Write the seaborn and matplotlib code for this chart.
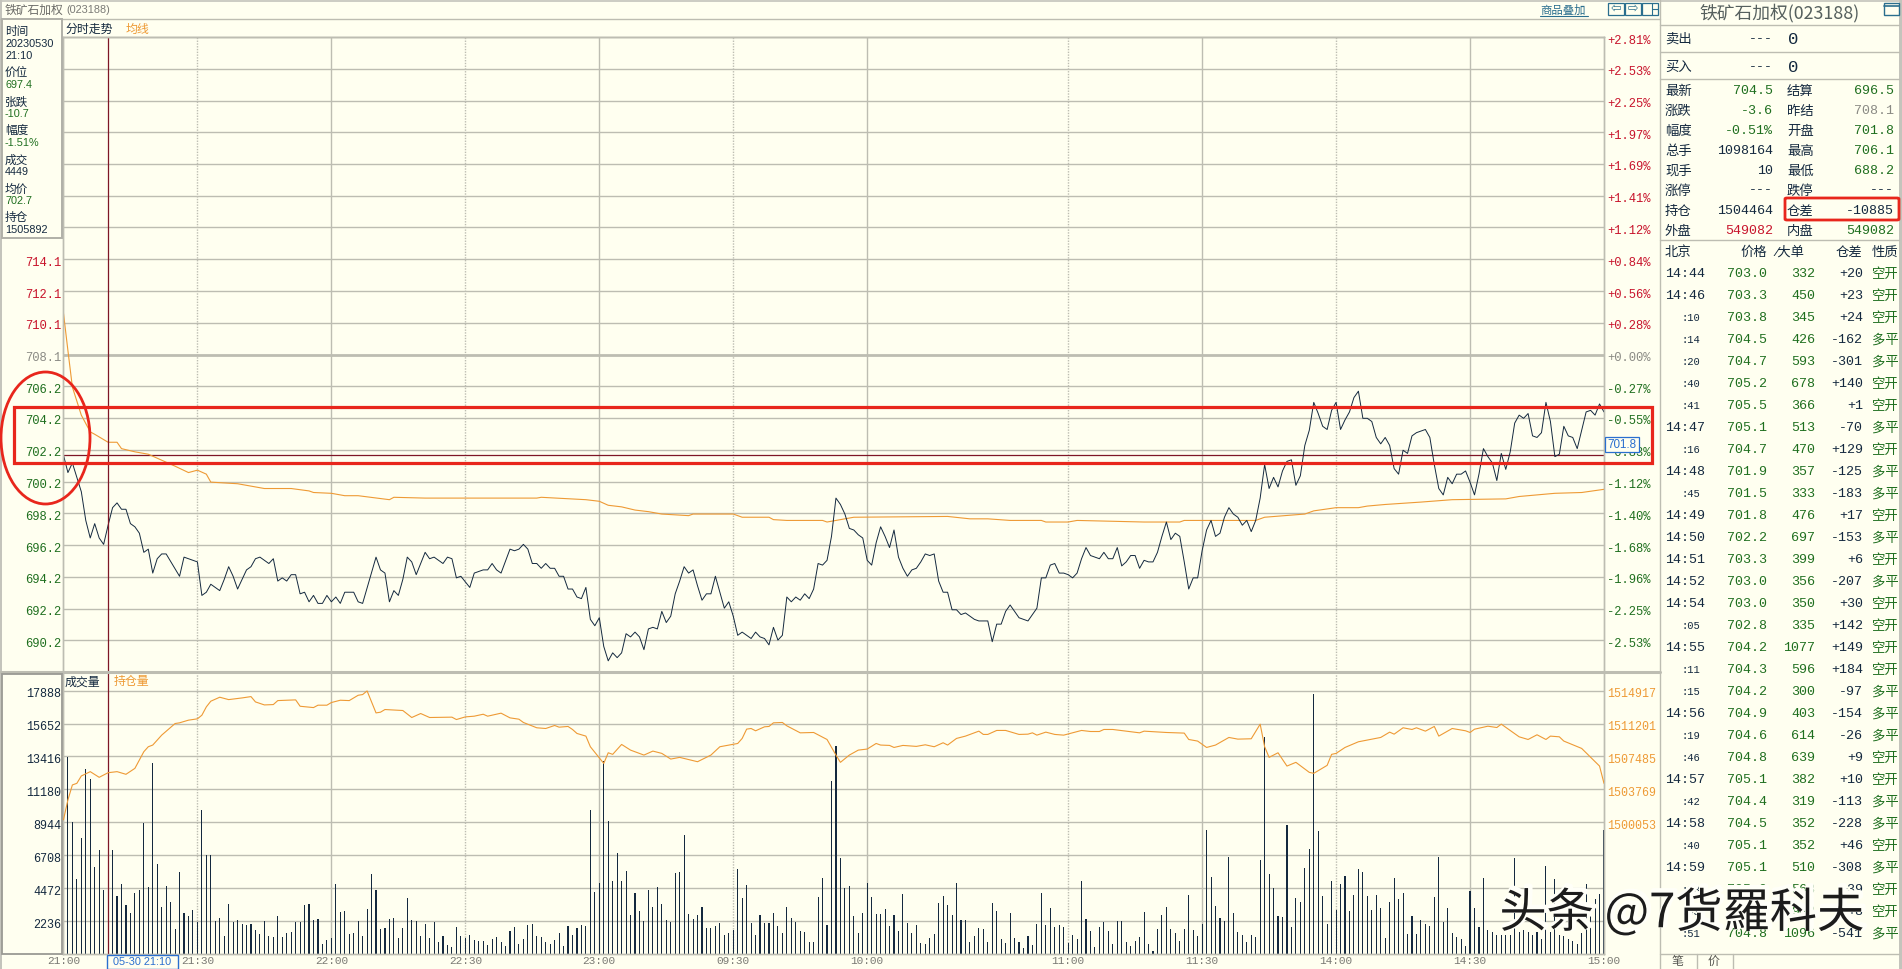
import numpy as np
import matplotlib
matplotlib.use("Agg")
import matplotlib.pyplot as plt
from matplotlib.lines import Line2D
from matplotlib.patches import Rectangle, Ellipse, FancyBboxPatch
from matplotlib.transforms import ScaledTranslation
import matplotlib.patheffects as pe
import seaborn as sns

# ---------- price line (minute index, price) ----------
price_minute = [0,1,2,3,4,5,6,7,8,9,10,11,12,13,14,15,16,17,18,19,20,21,22,23,26,27,29,30,31,32,33,35,36,37,38,39,41,42,43,44,46,47,48,49,50,51,52,53,54,55,56,57,58,59,60,61,62,63,65,66,67,70,71,72,73,74,75,76,77,78,79,81,82,83,85,86,87,88,89,91,92,93,94,95,96,97,98,100,101,102,103,104,105,106,107,108,109,110,111,112,113,114,115,116,117,118,119,120,121,122,123,124,
125,126,127,128,129,130,131,132,133,134,135,136,137,138,139,140,141,142,143,144,145,146,147,148,149,150,151,152,153,154,155,156,157,158,159,160,161,162,163,164,165,166,167,168,169,170,171,172,173,174,175,176,177,178,179,180,181,182,183,184,185,186,187,188,189,190,191,192,193,194,195,196,197,198,199,200,201,202,203,204,205,207,208,209,210,211,212,213,214,215,216,217,218,219,220,221,222,223,224,225,226,227,228,229,230,231,232,233,234,235,236,237,238,239,240,241,
242,243,244,245,246,247,248,249,250,251,252,253,254,255,256,257,258,259,260,261,262,263,264,265,266,267,268,269,270,271,272,273,274,275,276,277,278,279,280,281,282,283,284,285,286,287,288,289,290,291,292,293,294,295,296,297,298,299,300,301,302,303,304,305,306,307,308,309,310,311,312,313,314,315,316,317,318,319,320,321,322,323,324,325,326,327,328,329,330,331,332,333,334,335,336,337,338,339,340,341,342,343,344,345]
price_value = [701.8,700.7,701.3,700.4,699.5,697.7,696.6,697.5,696.6,696.2,697.4,698.5,698.8,698.4,698.4,697.5,697.3,696.9,695.7,695.9,694.4,695.3,695.6,695.6,694.2,695.4,695.2,695.1,693.0,693.2,693.7,693.3,694.0,694.8,694.2,693.4,694.6,694.8,695.3,695.4,695.0,695.3,693.9,694.1,693.9,694.3,694.3,693.1,693.2,692.6,693.0,692.5,692.5,693.0,692.6,692.9,692.5,693.2,693.2,692.6,692.5,695.4,694.6,694.4,692.6,693.3,693.0,694.0,695.4,695.1,694.3,695.7,695.3,695.4,695.0,695.4,695.3,694.1,694.2,693.5,694.4,694.5,694.6,694.6,695.0,694.6,694.4,695.9,695.8,695.9,696.2,695.9,695.0,695.0,694.7,695.0,694.7,694.7,694.2,694.2,693.4,693.4,692.9,692.8,693.5,691.5,691.1,691.6,689.8,688.9,689.4,689.1,
689.4,690.6,690.4,690.7,690.4,689.6,690.9,691.0,690.9,692.0,691.3,691.7,693.1,693.9,694.8,694.4,694.6,693.6,692.7,693.1,693.1,694.2,693.2,692.2,692.6,691.7,690.5,690.7,690.5,690.3,690.7,690.4,690.3,689.9,691.0,690.2,690.5,692.9,692.6,692.9,692.7,693.1,692.8,693.4,695.0,694.9,695.2,696.7,699.1,698.7,698.1,697.2,697.1,696.8,696.6,695.2,694.9,696.3,697.3,696.7,696.0,697.1,695.4,694.7,694.2,694.6,694.7,695.1,695.6,695.5,695.6,693.9,693.2,693.2,692.1,692.1,691.8,691.9,691.7,691.5,691.4,691.4,690.1,691.2,691.2,692.0,692.4,692.0,691.6,691.5,691.4,691.8,692.2,694.1,694.1,694.9,695.0,694.4,694.4,694.3,694.1,694.4,695.3,696.0,695.5,695.4,695.3,695.7,695.3,695.3,696.0,694.85,695.1,695.5,695.5,694.7,
695.2,695.1,695.1,695.7,696.7,697.6,696.5,696.9,696.7,695.1,693.4,694.1,694.1,695.8,697.1,697.7,696.7,696.9,697.9,698.5,698.1,697.9,697.4,697.7,697.0,697.7,699.1,701.2,699.7,700.4,699.8,700.8,701.4,701.5,699.9,700.5,702.4,703.35,705.1,704.4,703.6,703.4,704.6,705.1,703.4,704.0,704.5,705.4,705.8,704.1,704.1,703.9,702.9,702.5,702.9,702.4,700.95,700.6,702.1,701.9,703.0,703.2,703.3,703.4,702.9,701.2,699.7,699.3,700.4,700.0,700.6,700.6,700.8,700.1,699.3,700.6,702.2,701.7,701.3,700.2,701.9,700.9,702.0,703.8,704.3,704.1,704.4,703.0,702.9,703.2,705.1,703.9,701.7,701.85,703.6,703.0,702.9,702.2,703.35,704.5,704.6,704.3,705.0,704.5]

# ---------- average price line ----------
avg_minute = [0,1,2,4,6,7,10,12,13,16,19,25,28,30,32,33,39,45,51,55,56,60,63,66,73,74,81,106,107,117,120,122,125,128,131,134,140,141,150,152,158,159,162,170,171,173,177,198,203,207,212,219,220,225,227,242,250,251,267,269,278,280,285,290,292,296,304,311,323,326,334,340,345]
avg_value = [710.7,708.35,706.06,704.3,703.25,703.1,702.6,702.6,702.2,702.0,701.85,701.1,700.7,700.85,700.6,700.1,700.0,699.7,699.7,699.55,699.45,699.4,699.25,699.25,699.0,699.15,699.1,699.1,699.15,699.0,698.9,698.65,698.55,698.35,698.25,698.1,698.0,698.1,698.1,697.9,697.9,697.75,697.7,697.7,697.6,697.7,697.9,697.95,697.8,697.8,697.7,697.7,697.6,697.6,697.7,697.6,697.6,697.7,697.7,697.9,698.1,698.3,698.5,698.5,698.6,698.7,698.85,699.0,699.05,699.2,699.4,699.45,699.65]

# ---------- open interest line ----------
oi_minute = [0,1,2,3,4,6,8,10,12,14,16,18,19,20,22,25,26,28,30,31,32,33,35,37,40,42,43,45,47,48,52,53,56,57,59,60,62,64,66,67,68,70,71,72,76,78,80,82,87,88,90,92,94,95,98,100,102,103,106,108,110,111,113,114,115,117,118,121,122,123,125,127,130,132,134,136,138,142,145,147,151,152,153,154,155,157,158,159,161,162,165,168,171,173,174,176,178,180,182,183,185,186,188,191,193,195,197,198,200,202,205,206,207,209,211,214,216,217,218,220,222,224,228,230,232,233,235,241,242,247,251,252,254,256,258,261,263,266,268,269,270,272,274,276,279,280,283,284,285,287,290,295,297,298,300,302,303,305,307,308,311,314,315,316,319,321,322,326,328,330,332,333,335,336,340,344,345]
oi_value = [1500330,1502580,1504270,1504450,1505280,1505770,1505130,1505650,1505770,1505470,1506140,1508020,1508580,1508770,1509890,1511200,1511280,1511580,1511730,1512140,1513080,1513720,1514170,1513900,1514090,1514240,1513640,1513300,1513340,1513790,1513870,1513150,1513000,1513270,1513270,1513570,1513830,1513790,1514390,1514470,1514880,1512400,1512480,1512780,1512670,1511880,1512330,1511880,1511920,1511650,1511950,1512030,1512250,1512030,1512370,1511840,1511690,1511320,1510720,1510640,1510980,1510790,1510870,1510530,1510080,1509780,1508580,1506700,1507900,1507720,1508840,1508200,1507640,1508090,1507830,1507190,1507380,1506890,1507640,1508580,1508950,1509520,1510570,1510640,1510380,1510830,1510870,1511280,1511320,1510940,1510150,1510190,1509400,1507640,1506820,1507640,1508200,1508320,1508950,1508770,1508730,1508500,1508730,1508620,1508800,1508580,1509030,1508770,1509520,1509780,1510340,1509970,1509970,1510420,1510420,1509970,1510000,1510150,1509890,1510230,1509970,1509890,1510420,1510300,1510300,1510530,1510530,1510150,1510340,1510190,1510120,1509400,1509220,1508500,1508770,1509630,1509440,1509480,1511130,1508580,1507380,1507900,1506400,1506820,1505690,1505580,1506480,1507720,1507830,1508500,1509140,1509630,1510230,1510000,1510720,1510530,1510720,1510340,1510870,1509780,1510640,1510380,1510190,1510560,1510900,1510750,1511130,1509700,1509400,1509930,1509400,1509780,1509700,1509220,1508390,1506400,1504450]

# ---------- volume, per minute ----------
vol_night = [16930,13360,8990,5060,7910,12570,11910,5880,7070,4320,
4380,7070,3910,4720,3300,2760,4110,4320,8930,4520,
13000,6080,3160,4590,3500,1670,5600,2760,2550,2960,
2170,9810,6690,6690,2210,2420,1200,3370,2170,2280,
2060,1940,2010,1650,1380,2210,1200,1130,2550,1130,
1400,1470,2150,2150,3300,3370,2280,2350,700,970,
1100,4720,2830,2890,1330,1400,2210,1200,3030,5400,
4320,1670,1740,2350,2420,1060,1740,3770,2280,2210,
1200,2010,1060,2150,790,1200,590,450,1810,1200,
1060,1270,930,860,860,590,990,1130,790,520,
1540,1810,660,990,1940,2010,1200,1130,790,660,
930,1400,520,1880,1270,1740,1940,1880,9810,4180,
4790,13130,9060,4930,6830,4930,5670,2620,4110]
vol_morning = [2890,2210,4320,3160,4520,3370,2280,2150,5470,5600,
8050,2690,2350,2620,3160,1740,1740,1880,2080,1270,
1400,1600,5740,3770,4660,2080,1270,2620,2080,2080,
2760,1880,1400,3160,2420,2150,1540,1470,790,790,
3840,5130,1940,11770,14150,6490,4450,4590,2550,1400,
2760,4790,3840,2690,2690,3030,1880,2620,1540,4050,
2080,1400,1940,720,660,1060,1330,3440,3910,3300,
2620,4790,2280,2280,790,1200,1740,1670,790,3440,
2890,990,720,2760,1060,790,380,1200,590,2010,
4110,1940,3100,1810,1940,1810,720,1270,990,4930,
2350,1540,450,1810,2150,1540,660,2210]
vol_afternoon = [2210,790,520,860,1130,2830,660,180,1670,2620,
3160,1670,1400,860,1670,3980,1600,1200,2010,8450,
5200,3230,2420,2210,6620,2760,1470,1270,790,1270,
1130,6350,14760,5400,4450,2550,2490,8790,1810,3770,
3500,5810,7160,17670,8380,3910,2010,4930,2960,4720,
5330,2890,3980,5740,5600,3910,2960,3980,3100,1060,
3500,5130,3710,4110,1330,2550,1330,2280,2010,1880,
3840,6620,2150,3100,1400,1130,990,520,4270,3100,
1810,5130,1600,1470,1270,1270,1270,1270,6490,1500,
1600,1500,1300,1500,1000,6010,1500,5060,1300,1200,
1000,900,700,1400,4720,3370,3710,4050,8450]

# ---------- axis labels ----------
time_ticks = [0,30,60,90,120,150,180,225,255,285,315,345]
time_labels = ["21:00","21:30","22:00","22:30","23:00","09:30","10:00","11:00","11:30","14:00","14:30","15:00"]
left_labels = ["","","","","","","","714.1","712.1","710.1","708.1","706.2","704.2","702.2","700.2","698.2","696.2","694.2","692.2","690.2"]
right_labels = ["+2.81%","+2.53%","+2.25%","+1.97%","+1.69%","+1.41%","+1.12%","+0.84%","+0.56%","+0.28%","+0.00%","-0.27%","-0.55%","-0.83%","-1.12%","-1.40%","-1.68%","-1.96%","-2.25%","-2.53%"]
vol_ticks = [2236,4472,6708,8944,11180,13416,15652,17888]
oi_ticks = [1500053,1503769,1507485,1511201,1514917]

# ---------- side panel text ----------
tip_rows = [("时间",None),("20230530","n"),("21:10","n"),("价位",None),("697.4","g"),("张跌",None),("-10.7","g"),("幅度",None),("-1.51%","g"),("成交",None),("4449","n"),("均价",None),("702.7","g"),("持仓",None),("1505892","n")]
quote_left = [("最新","704.5","g"),("涨跌","-3.6","g"),("幅度","-0.51%","g"),("总手","1098164","n"),("现手","10","n"),("涨停","---","n"),("持仓","1504464","n"),("外盘","549082","r")]
quote_right = [("结算","696.5","g"),("昨结","708.1","a"),("开盘","701.8","g"),("最高","706.1","g"),("最低","688.2","g"),("跌停","---","n"),("仓差","-10885","n"),("内盘","549082","g")]
trades = [("14:44","703.0","332","+20","空开"),("14:46","703.3","450","+23","空开"),(":10","703.8","345","+24","空开"),(":14","704.5","426","-162","多平"),(":20","704.7","593","-301","多平"),(":40","705.2","678","+140","空开"),(":41","705.5","366","+1","空开"),("14:47","705.1","513","-70","多平"),(":16","704.7","470","+129","空开"),("14:48","701.9","357","-125","多平"),(":45","701.5","333","-183","多平"),("14:49","701.8","476","+17","空开"),("14:50","702.2","697","-153","多平"),("14:51","703.3","399","+6","空开"),("14:52","703.0","356","-207","多平"),("14:54","703.0","350","+30","空开"),(":05","702.8","335","+142","空开"),("14:55","704.2","1077","+149","空开"),(":11","704.3","596","+184","空开"),(":15","704.2","300","-97","多平"),("14:56","704.9","403","-154","多平"),(":19","704.6","614","-26","多平"),(":46","704.8","639","+9","空开"),("14:57","705.1","382","+10","空开"),(":42","704.4","319","-113","多平"),("14:58","704.5","352","-228","多平"),(":40","705.1","352","+46","空开"),("14:59","705.1","510","-308","多平"),(":18","705.0","568","+39","空开"),(":43","704.9","943","+8","空开"),(":51","704.8","1096","-541","多平")]

assert len(vol_night) == 129, len(vol_night)
assert len(vol_morning) == 108, len(vol_morning)
assert len(vol_afternoon) == 109, len(vol_afternoon)

# ---------- style ----------
BG = "#FFFFF0"; GRID = "#BDBDB2"; NAVY = "#14293F"; ORANGE = "#EE9A35"
RED = "#C8142C"; GREEN = "#1F6F1F"; GRAY = "#8A8A84"; BLUE = "#2A6FCF"; MARK = "#E8261C"; CROSS = "#7E1626"
sns.set_theme(style="white")
SANS = ["Noto Sans CJK SC", "Liberation Sans"]
MONO = ["Liberation Mono", "Noto Sans CJK SC"]
plt.rcParams["font.family"] = SANS
plt.rcParams["axes.unicode_minus"] = False
COL = {"n": NAVY, "g": GREEN, "r": RED, "a": GRAY}

W, H = 1902, 969
fig = plt.figure(figsize=(W/100, H/100), dpi=100, facecolor=BG)

def box(l, t, r, b):
    return [l/W, 1-b/H, (r-l)/W, (b-t)/H]
def T(x, y, s, **k):
    k.setdefault("va", "center")
    return fig.text(x/W, 1-y/H, s, **k)
def HL(x0, x1, y, c=GRID, lw=0.8, z=1):
    fig.add_artist(Line2D([x0/W, x1/W], [1-y/H, 1-y/H], color=c, lw=lw, zorder=z))
def VL(x, y0, y1, c=GRID, lw=0.8, z=1):
    fig.add_artist(Line2D([x/W, x/W], [1-y0/H, 1-y1/H], color=c, lw=lw, zorder=z))
def RC(l, t, r, b, **k):
    p = Rectangle((l/W, 1-b/H), (r-l)/W, (b-t)/H, transform=fig.transFigure, **k)
    fig.add_artist(p)
    return p

offset = ScaledTranslation(0, -2/100, fig.dpi_scale_trans)
X_LIM = (-0.1, 345)

# ---------- price panel ----------
ax = fig.add_axes(box(63, 37, 1604, 672), facecolor=BG)
levels = [708.1 + 1.99*k for k in range(10, -10, -1)]
ax.set_xlim(*X_LIM); ax.set_ylim(688.2, 728.0)
ax.set_yticks(levels); ax.set_yticklabels(left_labels, fontfamily=MONO, fontsize=8.7)
ax.set_xticks([])
ax.tick_params(axis="y", length=0, pad=1.5)
for lab, txt in zip(ax.get_yticklabels(), left_labels):
    lab.set_color(GRAY if txt == "708.1" else (RED if txt > "708.1" else GREEN))
    lab.set_transform(lab.get_transform() + offset)
for lv in levels[1:]:
    ax.axhline(lv, color=GRID, lw=2.0 if abs(lv-708.1) < .01 else 1.0, zorder=1)
for i, t in enumerate(time_ticks[1:-1], 1):
    ax.axvline(t, color=GRID, lw=1.0, ls=(0, (1, 1)) if i % 2 else "-", zorder=1)
sns.lineplot(x=avg_minute, y=avg_value, ax=ax, color=ORANGE, lw=0.8, estimator=None, sort=False, zorder=3)
sns.lineplot(x=price_minute, y=price_value, ax=ax, color=NAVY, lw=0.7, estimator=None, sort=False, zorder=4)
ax.axhline(701.8, color=CROSS, lw=0.9, zorder=2)
ax.axvline(time_ticks[0] + 10, color=CROSS, lw=0.9, zorder=5)
ax.set_xlim(*X_LIM); ax.set_ylim(688.2, 728.0); ax.set_xlabel(""); ax.set_ylabel("")
for s in ax.spines.values():
    s.set_color(GRID); s.set_linewidth(1.0)
axr = ax.twinx(); axr.set_ylim(688.2, 728.0)
axr.set_yticks(levels); axr.set_yticklabels(right_labels, fontfamily=MONO, fontsize=8.7)
axr.tick_params(axis="y", length=0, pad=2)
for lab, txt in zip(axr.get_yticklabels(), right_labels):
    lab.set_color(GRAY if txt == "+0.00%" else (RED if txt[0] == "+" else GREEN))
    lab.set_transform(lab.get_transform() + offset)
axr.grid(False)
for s in axr.spines.values():
    s.set_color(GRID); s.set_linewidth(1.0)

# ---------- volume panel ----------
axv = fig.add_axes(box(63, 672, 1604, 954), facecolor=BG)
vol_all = vol_night + vol_morning + vol_afternoon
minutes = np.arange(len(vol_all))
for v in vol_ticks:
    axv.axhline(v, color=GRID, lw=1.0, zorder=0)
for i, t in enumerate(time_ticks[1:-1], 1):
    axv.axvline(t, color=GRID, lw=1.0, ls=(0, (1, 1)) if i % 2 else "-", zorder=0)
sns.barplot(x=minutes, y=vol_all, ax=axv, native_scale=True, color=NAVY, saturation=1,
            width=0.245, errorbar=None, linewidth=0, zorder=2)
axv.axvline(10, color=CROSS, lw=0.9, zorder=5)
VOL_TOP = 19151
axv.set_xlim(*X_LIM); axv.set_ylim(0, VOL_TOP); axv.set_xlabel(""); axv.set_ylabel("")
axv.set_yticks(vol_ticks); axv.set_yticklabels([str(v) for v in vol_ticks], fontfamily=MONO, fontsize=8.5, color=NAVY)
axv.set_xticks(time_ticks); axv.set_xticklabels(time_labels, fontfamily=MONO, fontsize=8.0, color="#7A7A74")
axv.tick_params(axis="both", length=0, pad=1.5)
for lab in axv.get_yticklabels():
    lab.set_transform(lab.get_transform() + offset)
for s in axv.spines.values():
    s.set_color(GRID); s.set_linewidth(1.0)
axo = axv.twinx()
slope = 3716/2236
oi_lim = (1514917 - 17888*slope, 1514917 + (VOL_TOP-17888)*slope)
sns.lineplot(x=oi_minute, y=oi_value, ax=axo, color=ORANGE, lw=0.8, estimator=None, sort=False, zorder=3)
axo.set_xlim(*X_LIM); axo.set_xlabel(""); axo.set_ylabel("")
axo.set_ylim(*oi_lim)
axo.set_yticks(oi_ticks)
axo.set_yticklabels([str(v) for v in oi_ticks], fontfamily=MONO, fontsize=8.4, color=ORANGE)
axo.tick_params(axis="y", length=0, pad=2)
for lab in axo.get_yticklabels():
    lab.set_transform(lab.get_transform() + offset)
axo.grid(False)
for s in axo.spines.values():
    s.set_color(GRID); s.set_linewidth(1.0)

# ---------- chrome ----------
RC(0, 0, 2, H, fc="#C4C4BC", ec="none", zorder=6)
RC(1899, 0, W, H, fc="#C4C4BC", ec="none", zorder=6)
HL(0, W, 0.5, c="#C4C4BC", lw=1.2, z=6)
HL(0, 1660, 19, lw=1.0, z=6)
HL(63, 1604, 37, lw=1.0, z=6)
HL(0, 1660, 672, lw=2.2, z=6)
VL(1660, 0, 969, lw=1.0, z=6)
T(5, 10, "铁矿石加权", fontsize=8.5, color="#6A6A66", zorder=7)
T(66, 10, "(023188)", fontsize=7.8, color="#7A7A76", fontfamily=["Liberation Sans"], zorder=7)
T(65, 29, "分时走势", fontsize=8.6, color=NAVY, zorder=7)
T(126, 29, "均线", fontsize=8.6, color=ORANGE, zorder=7)
T(65, 682, "成交量", fontsize=8.6, color=NAVY, zorder=7)
T(114, 682, "持仓量", fontsize=8.6, color=ORANGE, zorder=7)
T(1540, 10, "商品叠加", fontsize=8.2, color="#2A6E8E", zorder=7)
HL(1540, 1588, 16, c="#2A6E8E", lw=0.8, z=7)
for l, g in zip([1608, 1625, 1642], ["⇦", "⇨", ""]):
    RC(l, 3, l+16, 15, fc=BG, ec="#2A6E8E", lw=0.9, zorder=7)
    if g:
        T(l+8, 8.5, g, ha="center", fontsize=9, color="#2A6E8E", fontfamily=["DejaVu Sans"], zorder=8)
VL(1652, 3, 15, c="#2A6E8E", lw=0.8, z=8)
HL(1652, 1658, 9, c="#2A6E8E", lw=0.8, z=8)
RC(1884, 3, 1899, 15, fc=BG, ec="#2A6E8E", lw=1.0, zorder=7)
HL(1884, 1899, 5.5, c="#2A6E8E", lw=1.2, z=8)

# hover box
RC(2, 19, 62, 238, fc=BG, ec="#B0B0A8", lw=1.4, zorder=6)
tip_y = [32, 44, 56, 72.6, 85, 102, 114, 130, 143, 160, 172, 189, 201, 217, 230]
for y, (s, c) in zip(tip_y, tip_rows):
    if c is None:
        T(5, y, s, fontsize=8.4, color=NAVY, zorder=7)
    else:
        T(5, y, s, fontsize=7.8, color=COL[c], fontfamily=["Liberation Sans"], zorder=7)
RC(2, 674, 62, 954, fc="none", ec="#9A9A94", lw=1.3, zorder=6)

# selected-time box and open price box
RC(107, 955, 178, 968.5, fc=BG, ec=BLUE, lw=1.0, zorder=7)
T(142.5, 962, "05-30 21:10", ha="center", fontsize=7.8, color=BLUE, fontfamily=["Liberation Sans"], zorder=8)
RC(1605, 437, 1639, 452, fc=BG, ec=BLUE, lw=0.9, zorder=7)
T(1622, 444.5, "701.8", ha="center", fontsize=8.4, color=BLUE, fontfamily=["Liberation Sans"], zorder=8)

# ---------- side panel ----------
T(1780, 13, "铁矿石加权(023188)", ha="center", fontsize=12.8, color="#56605E", zorder=7)
for y in [25, 52, 79, 240]:
    HL(1660, 1899, y, lw=1.0, z=6)
for y, s in zip([39, 67], ["卖出", "买入"]):
    T(1665, y, s, fontsize=9.6, color=NAVY, zorder=7)
    T(1773, y, "---", ha="right", fontsize=9.6, color=NAVY, fontfamily=MONO, zorder=7)
    T(1788, y, "0", fontsize=12.5, color=NAVY, fontfamily=MONO, zorder=7)
for i, ((a, b, c), (d, e, f)) in enumerate(zip(quote_left, quote_right)):
    y = 90.5 + 20*i
    T(1665, y, a, fontsize=9.6, color=NAVY, zorder=7)
    T(1773, y, b, ha="right", fontsize=9.6, color=COL[c], fontfamily=MONO, zorder=7)
    T(1787, y, d, fontsize=9.6, color=NAVY, zorder=7)
    T(1894, y, e, ha="right", fontsize=9.6, color=COL[f], fontfamily=MONO, zorder=7)
T(1665, 252, "北京", fontsize=9.6, color=NAVY, zorder=7)
T(1740, 252, "价格", fontsize=9.6, color=NAVY, zorder=7)
T(1775, 252, "⁄大单", fontsize=9.6, color=NAVY, fontfamily=["DejaVu Sans", "Noto Sans CJK SC"], zorder=7)
T(1836, 252, "仓差", fontsize=9.6, color=NAVY, zorder=7)
T(1872, 252, "性质", fontsize=9.6, color=NAVY, zorder=7)
for i, (tm, p, v, d, k) in enumerate(trades):
    y = 274 + 22*i
    if tm.startswith(":"):
        T(1682, y, tm, fontsize=7.6, color=NAVY, fontfamily=MONO, zorder=7)
    else:
        T(1665, y, tm, fontsize=9.6, color=NAVY, fontfamily=MONO, zorder=7)
    T(1767, y, p, ha="right", fontsize=9.6, color=GREEN, fontfamily=MONO, zorder=7)
    T(1815, y, v, ha="right", fontsize=9.6, color=GREEN, fontfamily=MONO, zorder=7)
    T(1863, y, d, ha="right", fontsize=9.6, color=NAVY, fontfamily=MONO, zorder=7)
    T(1872, y, k, fontsize=9.6, color=GREEN, zorder=7)
HL(1660, 1899, 954, lw=1.0, z=6)
VL(1697, 954, 969, lw=1.0, z=6)
VL(1733, 954, 969, lw=1.0, z=6)
T(1677, 962, "笔", ha="center", fontsize=8.6, color="#555550", zorder=7)
T(1714, 962, "价", ha="center", fontsize=8.6, color="#555550", zorder=7)

# ---------- hand-drawn red marks ----------
RC(14, 407, 1652, 463, fc="none", ec=MARK, lw=2.3, zorder=10)
fig.add_artist(Ellipse((45.5/W, 1-438/H), 89/W, 132/H, transform=fig.transFigure, fc="none", ec=MARK, lw=2.0, zorder=10))
fig.add_artist(FancyBboxPatch((1785/W, 1-220/H), 114/W, 22/H, boxstyle="round,pad=0,rounding_size=0.001",
                              transform=fig.transFigure, fc="none", ec=MARK, lw=2.0, zorder=10))

# ---------- watermark ----------
T(1682, 914, "头条 @7货羅科夫", ha="center", fontsize=34, color="#1C1C1C", zorder=12,
  path_effects=[pe.Stroke(linewidth=3.5, foreground="#FFFFF8", offset=(1.5, 1.5)), pe.Normal()])

fig.savefig("out.png", dpi=100, facecolor=BG)
